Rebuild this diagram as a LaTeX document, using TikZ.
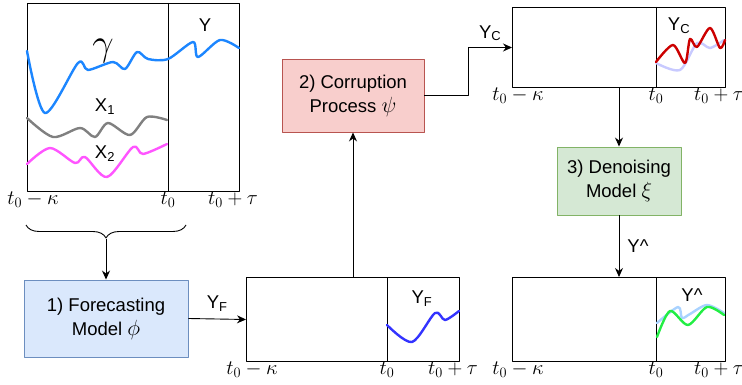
\RequirePackage{fix-cm}
\documentclass[tikz,border=0pt]{standalone}
\usepackage{fontspec}
\setmainfont{Liberation Sans}
\usetikzlibrary{arrows.meta,decorations.pathreplacing}
\definecolor{gammablue}{HTML}{1C86FF}
\definecolor{xonegray}{HTML}{808080}
\definecolor{xtwomagenta}{HTML}{FF55FF}
\definecolor{forecastblue}{HTML}{3333FF}
\definecolor{corrred}{HTML}{CC0000}
\definecolor{corrghost}{HTML}{C8CAFF}
\definecolor{denogreen}{HTML}{22EE44}
\definecolor{denoghost}{HTML}{A8D2FF}
\definecolor{fcfill}{HTML}{DAE8FC}
\definecolor{fcdraw}{HTML}{6C8EBF}
\definecolor{cpfill}{HTML}{F8CECC}
\definecolor{cpdraw}{HTML}{B85450}
\definecolor{dnfill}{HTML}{D5E8D4}
\definecolor{dndraw}{HTML}{82B366}
\newcommand{\stagesym}[1]{{\fontsize{22}{24}\selectfont$#1$}}
\begin{document}
\begin{tikzpicture}[x=1pt, y=-1pt, line join=round, >={Stealth[length=9pt,width=8pt]}, font=\fontsize{18.5}{24}\selectfont]
	\tikzset{panel/.style={draw, line width=1pt, minimum width=213pt, inner sep=0pt, anchor=north west},
		stage/.style={draw, line width=0.9pt, align=center, inner sep=0pt},
		curve/.style={line width=2.4pt, smooth, line cap=round},
		tick label/.style={anchor=north, inner sep=1pt, font=\fontsize{20.5}{24}\selectfont},
		flow label/.style={inner sep=2pt}}
	\useasboundingbox (0,0) rectangle (742,385);
	
	\node[panel, minimum width=212pt, minimum height=188pt] (pin) at (27,3) {};
	\node[panel, minimum height=84pt] (pF) at (246,277) {};
	\node[panel, minimum height=80pt] (pC) at (512,7) {};
	\node[panel, minimum height=84pt] (pH) at (512,277) {};
	\foreach \p/\l/\d/\r/\t/\b in {pin/27/168/239/3/191, pF/246/387/459/277/361, pC/512/656/725/7/87, pH/512/656/725/277/361}
	{
		\draw[line width=1pt] (\d,\t) -- (\d,\b);
		\node[tick label] (\p-a) at (\l+6,\b) {$t_0-\kappa$};
		\node[tick label] (\p-b) at (\d,\b) {$t_0$};
		\node[tick label] (\p-c) at (\r-6,\b) {$t_0+\tau$};
	}
	
	\draw[curve, gammablue] plot coordinates {(27,51) (45,113) (78,63) (88,70) (113,62) (125,69) (137,52) (148,59) (168,59) (193,42) (198,57) (220,40) (239,48)};
	\draw[curve, xonegray] plot coordinates {(27,118) (53,137) (80,128) (95,137) (108,123) (130,135) (147,117) (167,120)};
	\draw[curve, xtwomagenta] plot coordinates {(27,164) (50,148) (75,163) (85,157) (107,177) (133,147) (143,154) (167,144)};
	\node (lgamma) at (103,51) {\fontsize{38}{38}\selectfont$\gamma$};
	\node (lY) at (205,25) {Y};
	\node (lXone) at (105,107) {X\textsubscript{1}};
	\node (lXtwo) at (105,154) {X\textsubscript{2}};
	
	\draw[curve, forecastblue] plot coordinates {(387,325) (412,342) (435,313) (445,320) (459,311)};
	\node (lYF) at (422,299) {Y\textsubscript{F}};
	
	\draw[curve, corrghost] plot coordinates {(656,63) (680,70) (697,43) (710,48) (724,40)};
	\draw[curve, corrred] plot coordinates {(656,62) (673,45) (685,63) (690,39) (697,47) (710,28) (720,48) (725,40)};
	\node (lYC) at (679,26) {Y\textsubscript{C}};
	
	\draw[curve, denoghost] plot coordinates {(657,323) (678,307) (682,318) (690,314) (707,305) (724,313)};
	\draw[curve, denogreen] plot coordinates {(657,337) (670,311) (688,325) (707,307) (724,315)};
	\node (lYH) at (692,295) {Y\textasciicircum};
	
	\node[stage, fill=fcfill, draw=fcdraw, minimum width=164pt, minimum height=77pt] (fore) at (106,318.5) {1) Forecasting\\ Model \stagesym{\phi}};
	\node[stage, fill=cpfill, draw=cpdraw, minimum width=142pt, minimum height=73pt] (corr) at (353,95.5) {2) Corruption\\ Process \stagesym{\psi}};
	\node[stage, fill=dnfill, draw=dndraw, minimum width=124pt, minimum height=68pt] (deno) at (619,181) {3) Denoising\\ Model \stagesym{\xi}};
	
	\draw[line width=0.9pt, decorate, decoration={brace, amplitude=13pt, mirror}] (26,225) -- (186,225);
	\coordinate (bracetip) at (106,239);
	\draw[->, line width=0.9pt] (bracetip) -- (fore.north);
	\draw[->, line width=0.9pt] (fore.east) -- node[above=5pt, flow label] (aYF) {Y\textsubscript{F}} (pF.west);
	\draw[->, line width=0.9pt] (pF.north) -- (corr.south);
	\draw[->, line width=0.9pt] (corr.east) -- ++(44,0) |- node[pos=0.75, above=4pt, flow label] (aYC) {Y\textsubscript{C}} (pC.west);
	\draw[->, line width=0.9pt] (pC.south) -- (deno.north);
	\draw[->, line width=0.9pt] (deno.south) -- node[right, inner sep=8pt] (aYH) {Y\textasciicircum} (pH.north);
\end{tikzpicture}
\end{document}
